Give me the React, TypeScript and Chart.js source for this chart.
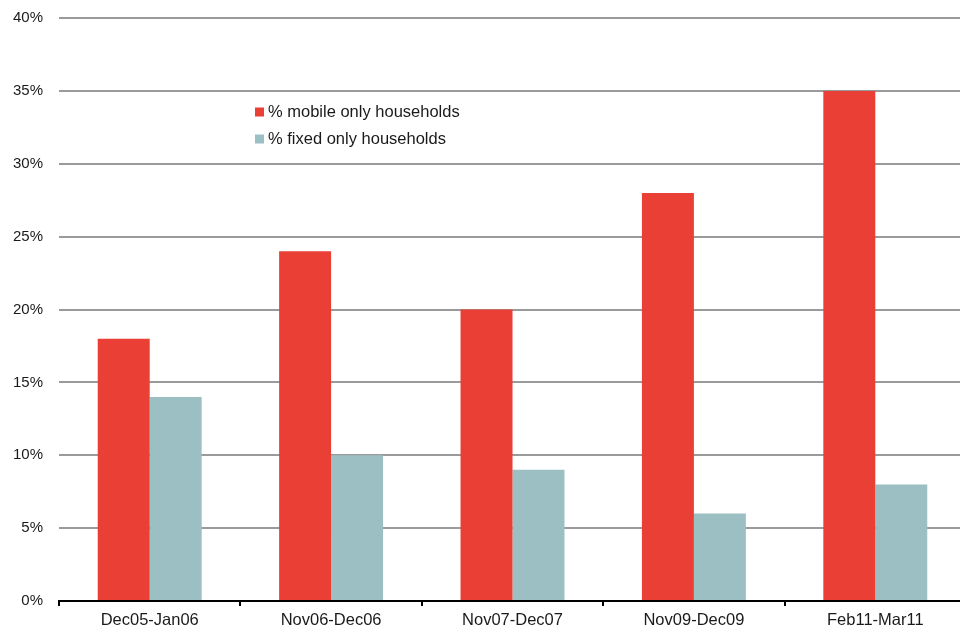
import React, { useEffect, useRef } from "react";
import { Chart, registerables } from "chart.js";

Chart.register(...registerables);

const categories = ["Dec05-Jan06", "Nov06-Dec06", "Nov07-Dec07", "Nov09-Dec09", "Feb11-Mar11"];
const mobileOnly = [18, 24, 20, 28, 35];
const fixedOnly = [14, 10, 9, 6, 8];
const seriesLabels = ["% mobile only households", "% fixed only households"];
const seriesColors = ["#E93F34", "#9BBFC2"];
const yTicks = [0, 5, 10, 15, 20, 25, 30, 35, 40];

const FONT = "'Liberation Sans', Arial, sans-serif";
const TEXT = "#1a1a1a";

const legendPlugin = {
  id: "insideLegend",
  afterDraw(chart: any) {
    const ctx = chart.ctx;
    ctx.save();
    ctx.font = `16.5px ${FONT}`;
    ctx.textBaseline = "middle";
    ctx.textAlign = "left";
    chart.data.datasets.forEach((ds: any, i: number) => {
      const cy = 112 + i * 27;
      ctx.fillStyle = ds.backgroundColor;
      ctx.fillRect(255, cy - 4.5, 9, 9);
      ctx.fillStyle = TEXT;
      ctx.fillText(ds.label, 268, cy);
    });
    ctx.restore();
  },
};

export default function App() {
  const ref = useRef<HTMLCanvasElement>(null);
  useEffect(() => {
    document.body.style.margin = "0";
    const canvas = ref.current;
    if (!canvas) return;
    const chart = new Chart(canvas, {
      type: "bar",
      data: {
        labels: categories,
        datasets: [
          { label: seriesLabels[0], data: mobileOnly, backgroundColor: seriesColors[0], borderWidth: 0 },
          { label: seriesLabels[1], data: fixedOnly, backgroundColor: seriesColors[1], borderWidth: 0 },
        ],
      },
      options: {
        responsive: false,
        animation: false,
        layout: { padding: { left: 0, right: 14, top: 18, bottom: 0 } },
        datasets: { bar: { barPercentage: 1, categoryPercentage: 0.573 } },
        plugins: { legend: { display: false }, tooltip: { enabled: false } },
        scales: {
          x: {
            afterFit(scale: any) {
              scale.height = 29;
              scale.paddingLeft = 0;
              scale.paddingRight = 0;
            },
            grid: {
              offset: true,
              drawOnChartArea: false,
              drawTicks: true,
              tickLength: 5,
              color: "#000",
              lineWidth: 2,
            },
            border: { display: true, color: "#000", width: 2 },
            ticks: { font: { family: FONT, size: 16.5 }, color: TEXT, padding: 5, maxRotation: 0 },
          },
          y: {
            min: 0,
            max: 40,
            afterFit(scale: any) {
              scale.width = 59;
              scale.paddingTop = 0;
              scale.paddingBottom = 0;
            },
            afterBuildTicks(scale: any) { scale.ticks = yTicks.map((v) => ({ value: v })); },
            grid: {
              drawTicks: false,
              color: (c: any) => (c.tick && c.tick.value === 0 ? "rgba(0,0,0,0)" : "#9a9a9a"),
              lineWidth: 2,
            },
            border: { display: false },
            ticks: {
              font: { family: FONT, size: 15 },
              color: TEXT,
              padding: 16,
              callback: (v: any) => `${v}%`,
            },
          },
        },
      },
      plugins: [legendPlugin],
    });
    return () => chart.destroy();
  }, []);
  return (
    <div style={{ position: "fixed", left: 0, top: 0, width: 960, height: 630, overflow: "hidden", background: "#fff" }}>
      <canvas ref={ref} width={980} height={630} style={{ display: "block" }} />
    </div>
  );
}
